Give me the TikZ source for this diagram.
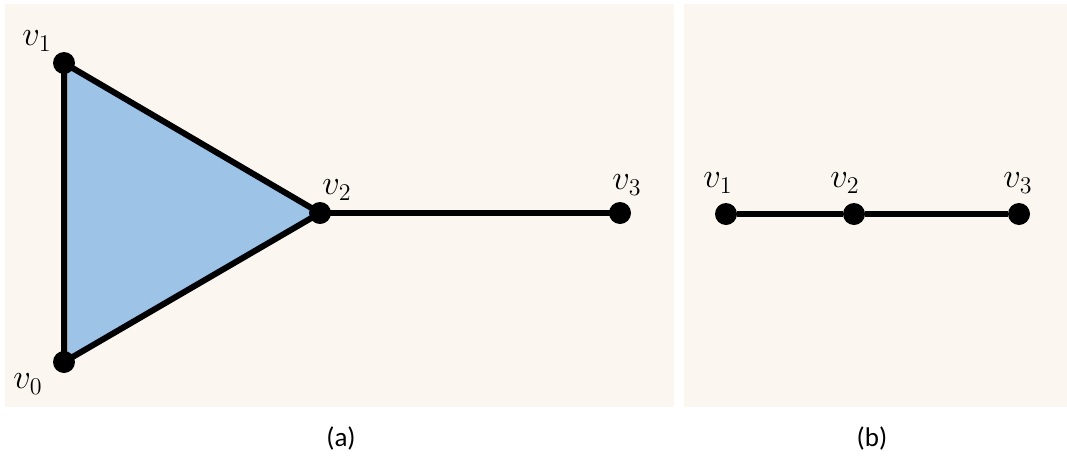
\documentclass[tikz,border=0pt]{standalone}
\usepackage{fontspec}
\setsansfont{Carlito}
\usepackage{tikz}
\usetikzlibrary{positioning}
\definecolor{paper}{HTML}{FBF7F0}
\definecolor{face}{HTML}{9DC3E6}
\tikzset{
    vtx/.style={circle, fill=black, inner sep=0pt, minimum size=11pt},
    link/.style={line width=3pt, draw=black},
    lbl/.style={inner sep=0pt, font=\fontsize{18}{20}\selectfont},
    subcap/.style={inner sep=0pt, font=\sffamily\fontsize{13.5}{15}\selectfont}
}
\begin{document}
\begin{tikzpicture}[x=0.5pt, y=-0.5pt]
\useasboundingbox (0,0) rectangle (1067,456);
% panels
\fill[paper] (5,4) rectangle (674,407);
\fill[paper] (684,4) rectangle (1067,407);
% (a)
\coordinate (a0) at (64,362);
\coordinate (a1) at (64,63);
\coordinate (a2) at (320,213);
\coordinate (a3) at (620,213);
\fill[face] (a0) -- (a1) -- (a2) -- cycle;
\draw[link, line join=round] (a0) -- (a1) -- (a2) -- cycle;
\draw[link] (a2) -- (a3);
\foreach \i in {0,...,3} {\node[vtx] (va\i) at (a\i) {};}
\node[lbl] (la1) at (37,41) {$v_1$};
\node[lbl] (la0) at (28,384) {$v_0$};
\node[lbl] (la2) at (337,190) {$v_2$};
\node[lbl] (la3) at (627,185) {$v_3$};
% (b)
\node[vtx] (vb1) at (726,214) {};
\node[vtx] (vb2) at (854,214) {};
\node[vtx] (vb3) at (1019,214) {};
\draw[link] (vb1) -- (vb2) -- (vb3);
\node[lbl] (lb1) at (718,183) {$v_1$};
\node[lbl] (lb2) at (845,183) {$v_2$};
\node[lbl] (lb3) at (1018,183) {$v_3$};
% captions
\node[subcap] (capa) at (341,438) {(a)};
\node[subcap] (capb) at (872,438) {(b)};
\end{tikzpicture}
\end{document}
